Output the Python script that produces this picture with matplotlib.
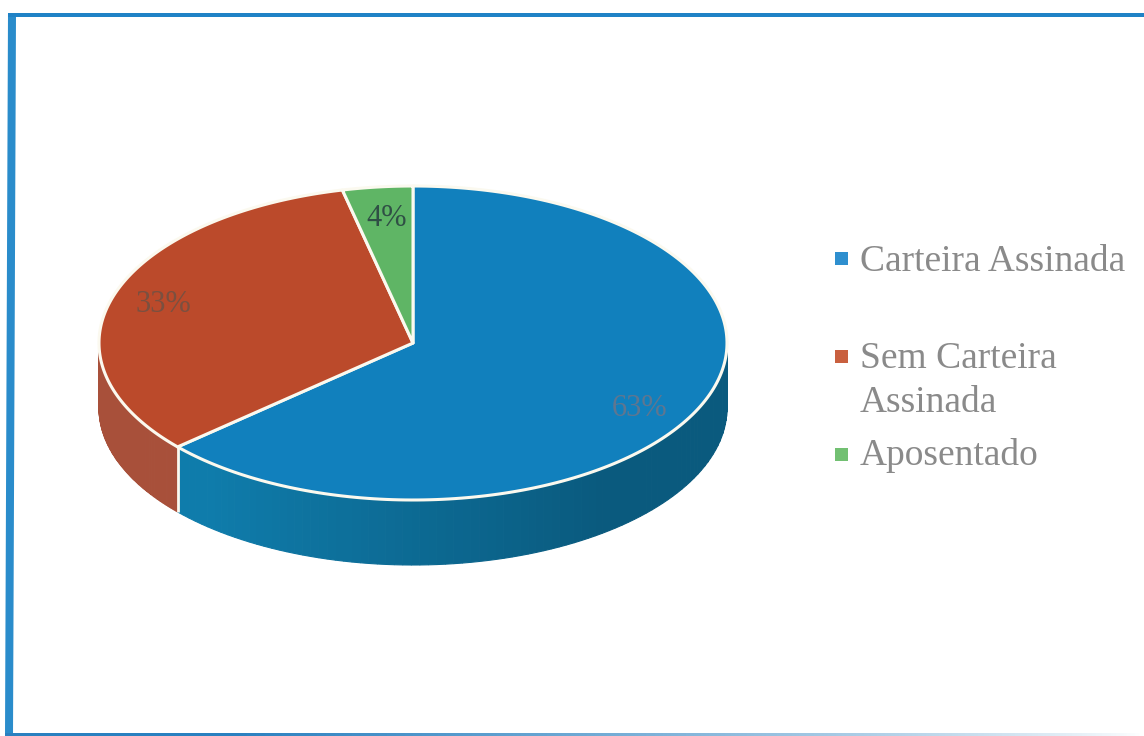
import numpy as np
import matplotlib
matplotlib.use('Agg')
import matplotlib.pyplot as plt
from matplotlib.colors import to_rgb
from matplotlib.patches import Polygon, Rectangle

categories = ['Carteira Assinada', 'Sem Carteira\nAssinada', 'Aposentado']
# las etiquetas redondean a 63, 33 y 4
values = [63.49, 32.9, 3.61]
value_labels = ['63%', '33%', '4%']
top_colors = ['#1180bd', '#bb4a2b', '#5fb565']
key_colors = ['#2e8fcf', '#c9603f', '#72c072']
side_dark = ['#0a5a7e', '#8f3f2c', '#3f8a42']
side_light = ['#0f7cab', '#a8503a', '#4f9f52']

W, H = 1144, 736
cx, cy = 413, 343
rx, ry = 314, 157
depth = 65
rim = '#fbf9ef'


def ell(t):
    return cx + rx * np.cos(t), cy + ry * np.sin(t)


fig = plt.figure(figsize=(W / 100, H / 100), dpi=100, facecolor='#ffffff')
ax = fig.add_axes([0, 0, 1, 1])
ax.set_xlim(0, W)
ax.set_ylim(H, 0)
ax.axis('off')

# marco azul, algo torcido por el escaneo
ax.add_patch(Polygon([(8, 13), (16, 13), (13, 736), (5, 736)], fc='#2a8ccb', ec='none'))
ax.add_patch(Rectangle((8, 13), W - 8, 3.5, fc='#1f82c6', ec='none'))
fade = np.ones((1, 256, 4))
fade[..., :3] = to_rgb('#2a80c0')
fade[..., 3] = np.clip(1.25 - np.linspace(0, 1, 256) * 1.25, 0, 1) ** 0.8
ax.imshow(fade, extent=(5, W, 736, 733), aspect='auto', zorder=1)
ax.set_xlim(0, W)
ax.set_ylim(H, 0)

# angulos de las porciones, en sentido horario desde arriba
fracs = np.array(values) / sum(values)
edges = -np.pi / 2 + 2 * np.pi * np.concatenate([[0], np.cumsum(fracs)])

# lateral
for i in range(len(values)):
    a0, a1 = edges[i], edges[i + 1]
    lo, hi = max(a0, 0), min(a1, np.pi)
    if hi <= lo:
        continue
    steps = np.linspace(lo, hi, 90)
    c0 = np.array(to_rgb(side_light[i]))
    c1 = np.array(to_rgb(side_dark[i]))
    for s0, s1 in zip(steps[:-1], steps[1:]):
        tt = np.linspace(s0, s1, 4)
        x, y = ell(tt)
        pts = np.r_[np.c_[x, y], np.c_[x[::-1], y[::-1] + depth]]
        # mas oscuro hacia el frente derecho
        k = np.clip(1 - ((s0 + s1) / 2 - np.pi * 0.3) / (np.pi * 0.42), 0, 1)
        col = c0 + (c1 - c0) * k
        ax.add_patch(Polygon(pts, fc=col, ec=col, lw=0.8, zorder=2))

# tapa
for i in range(len(values)):
    tt = np.linspace(edges[i], edges[i + 1], 200)
    x, y = ell(tt)
    pts = np.r_[[[cx, cy]], np.c_[x, y]]
    ax.add_patch(Polygon(pts, fc=top_colors[i], ec=rim, lw=2.2, joinstyle='round', zorder=3))

# linea vertical en la union del lateral
x, y = ell(edges[1])
ax.plot([x, x], [y, y + depth], color=rim, lw=2, solid_capstyle='butt', zorder=3)

# etiquetas de valor
label_pos = [(640, 408), (163, 304), (387, 218)]
label_cols = ['#5f7690', '#7a5040', '#2f4f45']
for txt, (lx, ly), col in zip(value_labels, label_pos, label_cols):
    ax.text(lx, ly, txt, ha='center', va='center', fontsize=22,
            family='Liberation Serif', color=col, zorder=4)

# leyenda
key_y = [258.5, 356, 454]
line_y = [[271], [368, 412], [465]]
for name, col, ky, bases in zip(categories, key_colors, key_y, line_y):
    ax.add_patch(Rectangle((835, ky - 6.5), 13, 13, fc=col, ec='none'))
    for part, by in zip(name.split('\n'), bases):
        ax.text(860, by, part, ha='left', va='baseline', fontsize=27,
                family='Liberation Serif', color='#8a8a8a')

fig.savefig('out.png', dpi=100, facecolor='#ffffff')
